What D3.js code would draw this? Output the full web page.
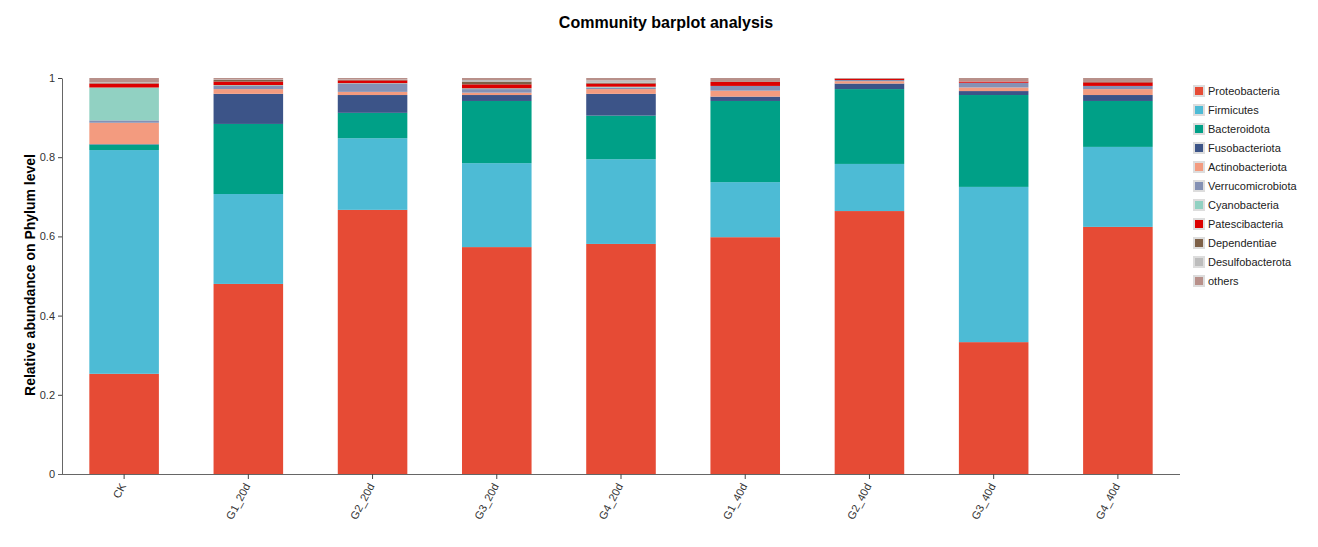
<!DOCTYPE html>
<html>
<head>
<meta charset="utf-8">
<script src="https://cdn.jsdelivr.net/npm/d3@7"></script>
<style>
  body { margin: 0; background: #fff; }
  svg { font-family: Arial, "Liberation Sans", sans-serif; }
</style>
</head>
<body>
<svg id="viz" width="1318" height="547"></svg>
<script>
// samples on the x axis
const samples = ['CK', 'G1_20d', 'G2_20d', 'G3_20d', 'G4_20d', 'G1_40d', 'G2_40d', 'G3_40d', 'G4_40d']
const phyla = ['Proteobacteria', 'Firmicutes', 'Bacteroidota', 'Fusobacteriota', 'Actinobacteriota',
  'Verrucomicrobiota', 'Cyanobacteria', 'Patescibacteria', 'Dependentiae', 'Desulfobacterota', 'others']
const yTicks = [0, 0.2, 0.4, 0.6, 0.8, 1]

// relative abundance per phylum, one value per sample
const proteobacteria    = [0.253, 0.480, 0.667, 0.573, 0.581, 0.598, 0.664, 0.333, 0.624]
const firmicutes        = [0.565, 0.227, 0.181, 0.212, 0.214, 0.139, 0.119, 0.392, 0.202]
const bacteroidota      = [0.014, 0.177, 0.064, 0.157, 0.110, 0.205, 0.189, 0.232, 0.116]
const fusobacteriota    = [0.001, 0.076, 0.045, 0.015, 0.055, 0.011, 0.014, 0.010, 0.015]
const actinobacteriota  = [0.054, 0.012, 0.008, 0.006, 0.012, 0.015, 0.006, 0.009, 0.015]
const verrucomicrobiota = [0.006, 0.008, 0.021, 0.009, 0.004, 0.012, 0.003, 0.012, 0.008]
const cyanobacteria     = [0.083, 0.002, 0.001, 0.002, 0.002, 0.000, 0.000, 0.000, 0.000]
const patescibacteria   = [0.010, 0.009, 0.007, 0.010, 0.008, 0.010, 0.003, 0.003, 0.009]
const dependentiae      = [0.001, 0.004, 0.001, 0.007, 0.002, 0.000, 0.000, 0.000, 0.001]
const desulfobacterota  = [0.002, 0.001, 0.001, 0.004, 0.006, 0.000, 0.000, 0.000, 0.000]
const others            = [0.011, 0.004, 0.004, 0.005, 0.006, 0.010, 0.002, 0.009, 0.010]

const colors = ['#E64B35', '#4DBBD5', '#00A087', '#3C5488', '#F39B7F',
  '#8491B4', '#91D1C2', '#DC0000', '#7E6148', '#BDBDBD', '#B8908A']

const series = [proteobacteria, firmicutes, bacteroidota, fusobacteriota, actinobacteriota,
  verrucomicrobiota, cyanobacteria, patescibacteria, dependentiae, desulfobacterota, others]

// build table for the stack
let table = samples.map((s, i) => {
  let row = { sample: s }
  phyla.forEach((p, j) => { row[p] = series[j][i] })
  return row
})

let svg = d3.select('#viz')
const plotLeft = 62, plotRight = 1180, plotTop = 78, plotBottom = 474

let x = d3.scaleBand().domain(samples).range([plotLeft, plotRight]).paddingInner(0.44).paddingOuter(0.22)
let y = d3.scaleLinear().domain([0, 1]).range([plotBottom, plotTop])
let color = d3.scaleOrdinal().domain(phyla).range(colors)

let stacked = d3.stack().keys(phyla)(table)

svg.append('g').selectAll('g')
  .data(stacked)
  .enter()
  .append('g')
  .style('fill', d => color(d.key))
  .selectAll('rect')
  .data(d => d)
  .enter()
  .append('rect')
  .attr('x', d => x(d.data.sample))
  .attr('y', d => y(d[1]))
  .attr('width', x.bandwidth())
  .attr('height', d => Math.max(0, y(d[0]) - y(d[1])))

// axes
let yAxis = svg.append('g')
  .attr('transform', `translate(${plotLeft},0)`)
  .call(d3.axisLeft(y).tickValues(yTicks).tickFormat(d3.format('~g')).tickSize(4).tickSizeOuter(0))
let xAxis = svg.append('g')
  .attr('transform', `translate(0,${plotBottom})`)
  .call(d3.axisBottom(x).tickSize(5).tickSizeOuter(0))

xAxis.select('.domain').attr('d', `M${plotLeft - 4},0.5H${plotRight}`)
;[yAxis, xAxis].forEach(a => {
  a.selectAll('.domain').attr('stroke', '#666')
  a.selectAll('.tick line').attr('stroke', '#444')
  a.selectAll('text').attr('fill', '#333').style('font-size', '11px').style('font-family', 'Arial, "Liberation Sans", sans-serif')
})
xAxis.selectAll('.tick text')
  .attr('text-anchor', 'end')
  .attr('dy', '0.35em')
  .attr('transform', 'translate(-1,10) rotate(-62)')
  .attr('x', 0).attr('y', 0)

// titles
svg.append('text')
  .attr('x', 666).attr('y', 28)
  .attr('text-anchor', 'middle')
  .style('font-size', '16px').style('font-weight', 'bold')
  .text('Community barplot analysis')

svg.append('text')
  .attr('transform', `translate(35,${(plotTop + plotBottom) / 2 - 1}) rotate(-90)`)
  .attr('text-anchor', 'middle')
  .style('font-size', '14px').style('font-weight', 'bold')
  .text('Relative abundance on Phylum level')

// legend
let legend = svg.append('g').attr('transform', 'translate(1193,85)')
let items = legend.selectAll('g')
  .data(phyla)
  .enter()
  .append('g')
  .attr('transform', (d, i) => `translate(0,${i * 19})`)
items.append('rect')
  .attr('x', 1).attr('y', 1)
  .attr('width', 10).attr('height', 10)
  .style('fill', d => color(d))
  .style('stroke', '#ddd').style('stroke-width', 2)
items.append('text')
  .attr('x', 15).attr('y', 6)
  .attr('dy', '0.35em')
  .style('font-size', '11px')
  .attr('fill', '#222')
  .text(d => d)
</script>
</body>
</html>
